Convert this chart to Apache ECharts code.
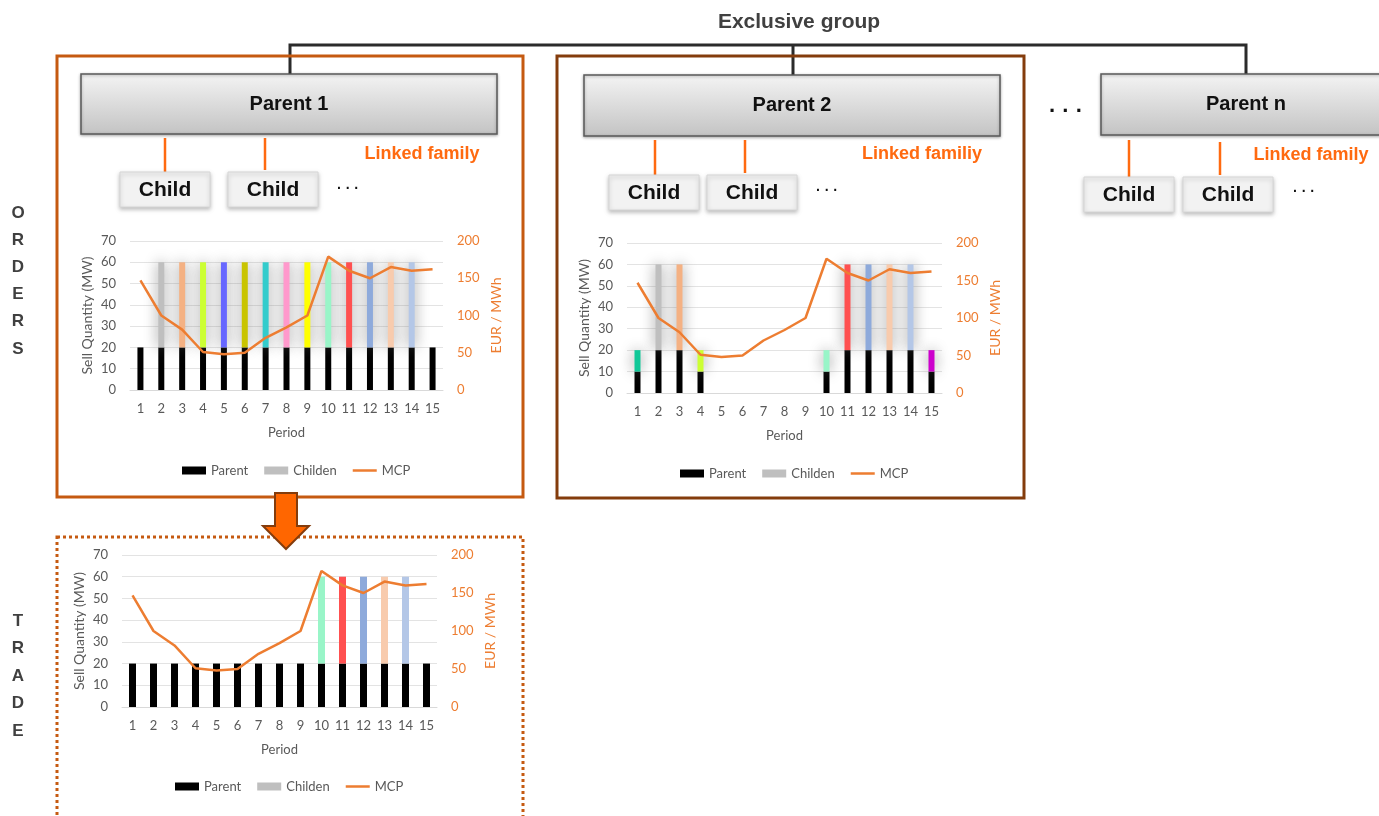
<!DOCTYPE html>
<html><head><meta charset="utf-8">
<script src="https://cdn.jsdelivr.net/npm/echarts@6/dist/echarts.min.js"></script>
<style>html,body{margin:0;padding:0;background:#fff}#c{width:1379px;height:816px}</style>
</head><body><div id="c"></div><script>
// ---------------- data ----------------
const periods = ['1','2','3','4','5','6','7','8','9','10','11','12','13','14','15'];
const mcp = [147, 100, 81, 51, 48, 50, 70, 84, 100, 179, 160, 150, 165, 160, 162];

const order1Parent = [20,20,20,20,20,20,20,20,20,20,20,20,20,20,20];
const order1Child  = ['-',40,40,40,40,40,40,40,40,40,40,40,40,40,'-'];

const order2Parent = [10,20,20,10,'-','-','-','-','-',10,20,20,20,20,10];
const order2Child  = [10,40,40,10,'-','-','-','-','-',10,40,40,40,40,10];

const tradeParent = [20,20,20,20,20,20,20,20,20,20,20,20,20,20,20];
const tradeChild  = ['-','-','-','-','-','-','-','-','-',40,40,40,40,40,'-'];

const leftTicks = { min: 0, max: 70, interval: 10 };
const rightTicks = { min: 0, max: 200, interval: 50 };
const legendNames = ['Parent', 'Childen', 'MCP'];

// child bar colours (style palette, one per period)
const order1Colors = [null,'#bfbfbf','#f4b183','#ccff33','#6666ff','#c9c400','#33cccc','#ff99cc','#ffff00','#99f5c8','#ff5050','#8eaadb','#f8cbad','#b4c7e7',null];
const order2Colors = ['#10c898','#bfbfbf','#f4b183','#ccff33',null,null,null,null,null,'#99f5c8','#ff5050','#8eaadb','#f8cbad','#b4c7e7','#cc00cc'];
const tradeColors  = [null,null,null,null,null,null,null,null,null,'#99f5c8','#ff5050','#8eaadb','#f8cbad','#b4c7e7',null];

// ---------------- chart ----------------
const chart = echarts.init(document.getElementById('c'), null, {renderer:'canvas', width:1379, height:816});
const F = 'Lato, "Open Sans", sans-serif';
const D = '"Liberation Sans", Arial, sans-serif';
const GREY = '#595959', ORANGE = '#ed7d31';

const grids = [
  {left:130, top:241, width:313, height:149},
  {left:627, top:243, width:315, height:150},
  {left:122, top:555, width:315, height:152}
];

function xAx(i){
  return {type:'category', gridIndex:i, data:periods,
    axisLine:{show:true, lineStyle:{color:'#d9d9d9'}}, axisTick:{show:false},
    axisLabel:{color:GREY, fontFamily:F, fontSize:13, margin:12},
    name:'Period', nameLocation:'middle', nameGap:36,
    nameTextStyle:{color:GREY, fontFamily:F, fontSize:13}};
}
function yLeft(i){
  return Object.assign({type:'value', gridIndex:i, position:'left'}, leftTicks, {
    axisLine:{show:false}, axisTick:{show:false},
    axisLabel:{color:GREY, fontFamily:F, fontSize:13, margin:14},
    splitLine:{lineStyle:{color:'#e3e3e3'}},
    name:'Sell Quantity (MW)', nameLocation:'middle', nameGap:36, nameRotate:90,
    nameTextStyle:{color:GREY, fontFamily:F, fontSize:14}});
}
function yRight(i){
  return Object.assign({type:'value', gridIndex:i, position:'right'}, rightTicks, {
    axisLine:{show:false}, axisTick:{show:false},
    axisLabel:{color:ORANGE, fontFamily:F, fontSize:13, margin:14},
    splitLine:{show:false},
    name:'EUR / MWh', nameLocation:'middle', nameGap:46, nameRotate:90,
    nameTextStyle:{color:ORANGE, fontFamily:F, fontSize:14}});
}

function childData(vals, colors){
  return vals.map((v,k)=> v === '-' ? '-' : {value:v, itemStyle:{color:colors[k]}});
}

function seriesFor(i, parent, child, colors, glow, bw){
  return [
    {name:'Parent', type:'bar', xAxisIndex:i, yAxisIndex:2*i, stack:'s'+i, data:parent,
      barWidth:bw, itemStyle:{color:'#000'}},
    {name:'Childen', type:'bar', xAxisIndex:i, yAxisIndex:2*i, stack:'s'+i, data:childData(child, colors),
      barWidth:bw, itemStyle: glow ? {color:'#bfbfbf', shadowBlur:14, shadowColor:'rgba(110,110,110,0.8)'} : {color:'#bfbfbf'}},
    {name:'MCP', type:'line', xAxisIndex:i, yAxisIndex:2*i+1, data:mcp, symbol:'none', showSymbol:false,
      lineStyle:{color:ORANGE, width:2.5}, itemStyle:{color:ORANGE}, z:5}
  ];
}

function legendAt(left, top){
  return {left:left, top:top, orient:'horizontal',
    data:[{name:'Parent', icon:'rect'},{name:'Childen', icon:'rect'},{name:'MCP', icon:'path://M0,0 H24 V2.5 H0 Z', itemStyle:{color:ORANGE}}], itemGap:16,
    itemWidth:24, itemHeight:8, selectedMode:false,
    itemStyle:{shadowBlur:0, shadowColor:'transparent'},
    textStyle:{color:GREY, fontFamily:F, fontSize:13}};
}

// ---- diagram graphics ----
const parentFill = new echarts.graphic.LinearGradient(0,0,0,1,[{offset:0,color:'#f4f4f4'},{offset:1,color:'#c3c3c3'}]);
function parentBox(x,y,w,h,label){
  return [
    {type:'rect', shape:{x:x,y:y,width:w,height:h}, style:{fill:parentFill, stroke:'#5a5a5a', lineWidth:1.5, shadowBlur:3, shadowOffsetY:1, shadowColor:'rgba(0,0,0,0.3)'}},
    {type:'text', x:x+w/2, y:y+h/2, style:{text:label, align:'center', verticalAlign:'middle', font:'bold 20px '+D, fill:'#111'}}
  ];
}
function childBox(x,y,label){
  return [
    {type:'rect', shape:{x:x,y:y,width:90,height:35}, style:{fill:'#f2f2f2', stroke:'#d6d6d6', lineWidth:1, shadowBlur:4, shadowOffsetY:2, shadowColor:'rgba(0,0,0,0.25)'}},
    {type:'text', x:x+45, y:y+18, style:{text:label, align:'center', verticalAlign:'middle', font:'bold 21px '+D, fill:'#111'}}
  ];
}
function vline(x,y1,y2,color,w){
  return {type:'line', shape:{x1:x,y1:y1,x2:x,y2:y2}, style:{stroke:color, lineWidth:w}};
}
function txt(x,y,s,font,fill,align){
  return {type:'text', x:x, y:y, style:{text:s, align:align||'center', verticalAlign:'middle', font:font, fill:fill}};
}
const LF = '#ff6a10';
let g = [];
g.push(txt(799,22,'Exclusive group','bold 21px '+D,'#404040'));
g.push({type:'polyline', shape:{points:[[290,74],[290,45],[1246,45],[1246,74]]}, style:{stroke:'#2b2b2b', lineWidth:3, fill:null}});
g.push(vline(793,45,75,'#2b2b2b',3));
g.push({type:'rect', shape:{x:57,y:56,width:466,height:441}, style:{fill:null, stroke:'#c55a11', lineWidth:3}});
g.push({type:'rect', shape:{x:557,y:56,width:467,height:442}, style:{fill:null, stroke:'#843c0c', lineWidth:3}});
g.push({type:'rect', shape:{x:57,y:537,width:466,height:300}, style:{fill:null, stroke:'#c55a11', lineWidth:3, lineDash:[3,3]}});
g = g.concat(parentBox(81,74,416,60,'Parent 1'));
g = g.concat(parentBox(584,75,416,61,'Parent 2'));
g = g.concat(parentBox(1101,74,290,61,'Parent n'));
g.push(txt(1066,112,'· · ·','bold 22px '+D,'#111'));
// family 1
g.push(vline(165,138,172,LF,2.5)); g.push(vline(265,138,170,LF,2.5));
g = g.concat(childBox(120,172,'Child')); g = g.concat(childBox(228,172,'Child'));
g.push(txt(348,189,'· · ·','bold 14px '+D,'#111'));
g.push(txt(422,154,'Linked family','bold 18px '+D,LF));
// family 2
g.push(vline(655,140,175,LF,2.5)); g.push(vline(745,140,173,LF,2.5));
g = g.concat(childBox(609,175,'Child')); g = g.concat(childBox(707,175,'Child'));
g.push(txt(827,191,'· · ·','bold 14px '+D,'#111'));
g.push(txt(922,154,'Linked familiy','bold 18px '+D,LF));
// family n
g.push(vline(1129,140,177,LF,2.5)); g.push(vline(1220,142,175,LF,2.5));
g = g.concat(childBox(1084,177,'Child')); g = g.concat(childBox(1183,177,'Child'));
g.push(txt(1304,192,'· · ·','bold 14px '+D,'#111'));
g.push(txt(1311,155,'Linked family','bold 18px '+D,LF));
// side labels
'ORDERS'.split('').forEach((c,k)=>g.push(txt(18,213+k*27.2,c,'bold 17px '+D,'#404040')));
'TRADE'.split('').forEach((c,k)=>g.push(txt(18,621+k*27.5,c,'bold 17px '+D,'#404040')));
// arrow
g.push({type:'polygon', shape:{points:[[275,493],[297,493],[297,526],[309,526],[286,549],[263,526],[275,526]]}, style:{fill:'#ff6600', stroke:'#843c0c', lineWidth:2}, z:10});

chart.setOption({
  animation:false,
  backgroundColor:'#fff',
  grid: grids,
  xAxis:[xAx(0), xAx(1), xAx(2)],
  yAxis:[yLeft(0), yRight(0), yLeft(1), yRight(1), yLeft(2), yRight(2)],
  legend:[legendAt(177,459), legendAt(675,462), legendAt(170,775)],
  series:[].concat(
    seriesFor(0, order1Parent, order1Child, order1Colors, true, 6),
    seriesFor(1, order2Parent, order2Child, order2Colors, true, 6),
    seriesFor(2, tradeParent, tradeChild, tradeColors, false, 7)
  ),
  graphic: g
});
</script></body></html>
